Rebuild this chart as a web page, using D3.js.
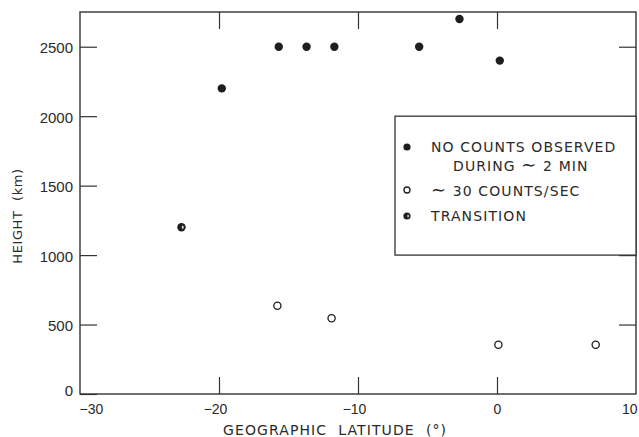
<!DOCTYPE html>
<html>
<head>
<meta charset="utf-8">
<script src="https://cdn.jsdelivr.net/npm/d3@7"></script>
<style>
  html, body { margin: 0; padding: 0; background: #fff; }
  svg { display: block; font-family: "DejaVu Sans", sans-serif; }
  .axis text { fill: #2a2a2a; font-size: 14px; }
  .axis line { stroke: #333; stroke-width: 1.2; }
  .axis path.domain { display: none; }
  .frame { fill: none; stroke: #333; stroke-width: 1.4; }
  .title { fill: #2a2a2a; white-space: pre; }
  .legend text { fill: #2a2a2a; font-size: 14px; letter-spacing: 1.1px; white-space: pre; }
  .legend tspan.wave { font-size: 18px; }
</style>
</head>
<body>
<svg id="chart" width="639" height="437"></svg>
<script>
// values
const noCountLat = [-19.8, -15.7, -13.7, -11.7, -5.6, -2.7, 0.2];
const noCountHeight = [2200, 2500, 2500, 2500, 2500, 2700, 2400];
const countsLat = [-15.8, -11.9, 0.1, 7.1];
const countsHeight = [635, 545, 355, 355];
const transitionLat = [-22.7];
const transitionHeight = [1200];

const xTicks = [-30, -20, -10, 0, 10];
const yTicks = [0, 500, 1000, 1500, 2000, 2500];
const legendLabels = ["NO COUNTS OBSERVED", "DURING \u223C 2 MIN", "\u223C 30 COUNTS/SEC", "TRANSITION"];

const svg = d3.select("#chart");
const plotLeft = 80, plotRight = 636, plotTop = 12, plotBottom = 394;

const x = d3.scaleLinear().domain([-30, 10]).range([plotLeft, plotRight]);
const y = d3.scaleLinear().domain([0, 2750]).range([plotBottom, plotTop]);

const TICK = 17;

// left axis with labels
const gLeft = svg.append("g").attr("class", "axis")
  .attr("transform", `translate(${plotLeft},0)`)
  .call(d3.axisLeft(y).tickValues(yTicks).tickSize(-TICK).tickPadding(7).tickFormat(d3.format("d")));
gLeft.selectAll("text").attr("dy", null).attr("y", (d) => (d === 0 ? 1 : 6)).style("font-size", "15px");

// right axis, ticks only
svg.append("g").attr("class", "axis")
  .attr("transform", `translate(${plotRight},0)`)
  .call(d3.axisRight(y).tickValues(yTicks.slice(1)).tickSize(-TICK).tickFormat(""));

// bottom axis with labels
const gBottom = svg.append("g").attr("class", "axis")
  .attr("transform", `translate(0,${plotBottom})`)
  .call(d3.axisBottom(x).tickValues(xTicks).tickSize(-TICK).tickFormat((d) => (d < 0 ? "\u2212" + Math.abs(d) : d)));
gBottom.selectAll(".tick line").filter((d) => d === -30 || d === 10).remove();
gBottom.selectAll("text")
  .attr("dy", null)
  .attr("y", 20)
  .attr("text-anchor", (d) => (d === -30 ? "start" : d === 10 ? "end" : "middle"))
  .attr("x", (d) => (d === -30 ? -1 : d === 10 ? 1 : d < 0 ? -4 : 0));

// top axis, ticks only
svg.append("g").attr("class", "axis")
  .attr("transform", `translate(0,${plotTop})`)
  .call(d3.axisTop(x).tickValues(xTicks.slice(1, -1)).tickSize(-TICK).tickFormat(""));

svg.append("rect").attr("class", "frame")
  .attr("x", plotLeft).attr("y", plotTop)
  .attr("width", plotRight - plotLeft).attr("height", plotBottom - plotTop);

// axis titles
svg.append("text").attr("class", "title")
  .attr("x", 223).attr("y", 435)
  .style("font-size", "14px").style("letter-spacing", "1.1px")
  .text("GEOGRAPHIC  LATITUDE  (\u00B0)");

svg.append("text").attr("class", "title")
  .attr("transform", "translate(22,216) rotate(-90)")
  .attr("text-anchor", "middle")
  .style("font-size", "13px").style("letter-spacing", "0.6px")
  .text("HEIGHT  (km)");

// markers
const filled = (g, cx, cy, r) =>
  g.append("circle").attr("cx", cx).attr("cy", cy).attr("r", r).attr("fill", "#1e1e1e");
const open = (g, cx, cy, r) =>
  g.append("circle").attr("cx", cx).attr("cy", cy).attr("r", r - 0.6)
    .attr("fill", "#fff").attr("stroke", "#1e1e1e").attr("stroke-width", 1.3);
const half = (g, cx, cy, r) => {
  g.append("circle").attr("cx", cx).attr("cy", cy).attr("r", r).attr("fill", "#1e1e1e");
  g.append("ellipse").attr("cx", cx + r * 0.3).attr("cy", cy).attr("rx", r * 0.22).attr("ry", r * 0.42).attr("fill", "#ddd");
};

const pts = svg.append("g");
noCountLat.forEach((d, i) => filled(pts, x(d), y(noCountHeight[i]), 4.2));
countsLat.forEach((d, i) => open(pts, x(d), y(countsHeight[i]), 4.2));
transitionLat.forEach((d, i) => half(pts, x(d), y(transitionHeight[i]), 4.2));

// legend box
const legend = svg.append("g").attr("class", "legend");
legend.append("rect")
  .attr("x", 395).attr("y", y(2000))
  .attr("width", plotRight - 395).attr("height", y(1000) - y(2000))
  .attr("fill", "#fff").attr("stroke", "#333").attr("stroke-width", 1.3);

// legend text, with the tilde drawn a bit larger like the lettering
const legendText = (tx, ty, label) => {
  const t = legend.append("text").attr("x", tx).attr("y", ty);
  label.split(/(\u223C)/).forEach((part) => {
    if (!part) return;
    t.append("tspan").attr("class", part === "\u223C" ? "wave" : null).text(part);
  });
};

const mx = 407, tx = 431;
filled(legend, mx, 147, 3.6);
legendText(tx, 152, legendLabels[0]);
legendText(453, 171, legendLabels[1]);
open(legend, mx, 190, 3.6);
legendText(tx, 196, legendLabels[2]);
half(legend, mx, 216, 3.6);
legendText(tx, 221, legendLabels[3]);
</script>
</body>
</html>
